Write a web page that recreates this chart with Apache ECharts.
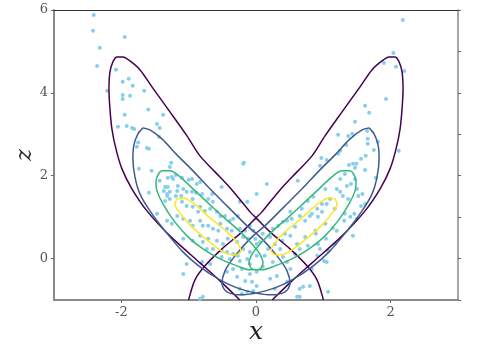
<!DOCTYPE html>
<html>
<head>
<meta charset="utf-8">
<script src="https://cdn.jsdelivr.net/npm/echarts@6/dist/echarts.min.js"></script>
<style>html,body{margin:0;padding:0;background:#fff;}#c{width:491px;height:344px;}</style>
</head>
<body>
<div id="c"></div>
<script>
// ---------- data ----------
var xTickLabels = [-2, 0, 2];
var yTickLabels = [0, 2, 4, 6];
var yMinorTicks = [-1, 0, 1, 2, 3, 4, 5, 6];

var scatterPoints = [
[-2.41,5.88],[-2.42,5.50],[-1.95,5.35],[-2.32,5.09],[-2.36,4.65],[-2.08,4.56],[-1.98,4.27],[-1.89,4.34],
[-1.83,4.17],[-2.21,4.05],[-1.98,3.95],[-1.98,3.85],[-1.87,3.93],[-1.66,4.05],[-1.60,3.60],[-1.95,3.47],
[-1.38,3.47],[-2.05,3.18],[-1.92,3.20],[-1.84,3.15],[-1.81,3.13],[-1.47,3.25],[-1.43,3.15],[-1.44,2.94],
[-1.75,2.80],[-1.77,2.70],[-1.62,2.67],[-1.59,2.65],[-1.26,2.31],[-1.28,2.21],[-0.18,2.31],[-1.74,2.17],
[-1.55,2.12],[-1.19,2.02],[-1.25,1.97],[-1.23,1.92],[-1.31,1.95],[-1.10,1.95],[-1.00,1.90],[-1.31,1.73],
[-1.16,1.75],[-1.08,1.68],[-1.37,1.63],[-1.59,1.59],[-1.03,1.61],[-0.95,1.61],[-0.89,1.59],[-1.19,1.51],
[-1.32,1.51],[-1.11,1.51],
[-0.19,2.29],[-1.43,1.88],[-0.95,1.92],[-0.88,1.80],[-0.83,1.85],[-1.35,1.73],[-1.28,1.61],[-1.17,1.63],
[-1.32,1.56],[-1.28,1.44],[-1.35,1.39],[-0.94,1.44],[-0.80,1.56],[-0.71,1.44],[-0.64,1.37],[-0.51,1.73],
[-0.65,1.56],[-1.10,1.37],[-1.03,1.27],[-0.94,1.25],[-0.83,1.25],[-0.86,1.13],[-0.76,1.15],[-0.68,1.20],
[-0.58,1.13],[-0.53,1.03],[-0.46,1.03],[-0.39,0.91],[-0.34,0.96],[-0.27,1.03],[-0.13,1.37],[-0.24,1.37],
[-1.32,0.91],[-1.25,0.84],[-1.17,1.03],[-1.08,0.96],[-0.98,0.91],[-0.94,0.79],[-0.83,0.91],[-0.79,0.79],
[-0.71,0.79],[-0.64,0.72],[-0.56,0.67],[-0.53,0.84],[-0.43,0.72],[-0.36,0.67],[-0.24,0.72],[-0.16,0.67],
[-0.09,0.79],[-0.04,0.67],[-1.08,0.48],[-0.94,0.43],[-0.83,0.55],[-0.79,0.40],[-0.71,0.48],[-0.58,0.43],
[-0.49,0.35],[-0.42,0.48],[-0.28,0.40],[-0.19,0.52],[-0.12,0.48],[-0.01,0.48],[0.01,0.35],[-0.73,0.23],
[-0.64,0.23],[-0.51,0.19],[-0.43,0.16],[-0.34,0.11],[-0.27,0.07],[-0.19,0.23],[-0.09,0.16],[0.01,0.07],
[-0.51,0.04],[-0.39,-0.01],[-0.24,-0.06],[-0.13,-0.01],[-0.09,-0.13],[-0.80,-0.08],[-1.03,-0.13],[-0.68,-0.13],
[-1.08,-0.37],[-0.43,-0.32],[-0.34,-0.25],[-0.21,-0.25],[-0.09,-0.37],[0.01,-0.32],[-0.28,-0.44],[-0.16,-0.54],
[-0.06,-0.56],[0.01,-0.66],[-0.24,-0.73],[-0.13,-0.80],[-0.04,-0.78],[-0.83,-0.97],[-0.79,-0.92],[-1.47,1.08],
[-0.21,-0.85],
[0.16,1.80],[0.01,1.56],[0.62,1.88],[1.20,1.68],[1.25,1.61],[1.29,1.51],[1.35,1.75],[1.37,1.44],
[1.50,1.68],[1.40,1.01],[1.50,0.96],[1.44,0.55],[1.20,0.67],[0.77,1.39],[0.80,1.03],[0.91,1.20],
[0.92,1.01],[0.98,1.13],[1.05,1.32],[0.65,1.03],[0.51,1.13],[0.46,0.91],[0.40,0.89],[0.33,0.79],
[0.51,0.55],[0.39,0.43],[0.25,0.72],[0.21,0.52],[0.10,0.60],[0.06,0.40],[0.61,0.35],[0.77,0.31],
[0.65,0.23],[0.91,0.07],[0.95,0.23],[1.05,-0.08],[0.40,0.04],[0.46,-0.08],[0.25,-0.08],[0.10,-0.20],
[0.31,-0.42],[0.21,-0.49],[0.46,-0.56],[0.65,-0.73],[0.70,-0.68],[1.07,-0.80],[0.61,-0.92],[0.65,-0.92],
[0.80,-0.66],
[0.28,0.35],[0.43,0.60],[0.58,0.77],[0.73,0.91],[0.83,1.08],[0.98,1.32],[1.10,1.44],[1.17,1.20],
[1.03,0.84],[0.88,0.67],[0.73,0.52],[0.58,0.11],[0.36,0.23],[0.18,0.23],[0.13,0.07],[0.53,0.96],
[0.68,1.20],[0.85,1.49],[1.03,1.68],[1.25,1.92],[1.32,2.04],[1.47,1.92],[1.58,1.56],[1.62,1.32],
[1.32,1.08],[1.17,0.35],[0.92,0.35],[0.83,-0.25],[0.51,-0.25],[0.28,-0.73],
[1.41,1.80],[1.52,1.51],[1.78,1.95],[1.56,1.27],[1.46,1.08],[1.14,0.74],[1.31,0.91],[0.89,0.60],
[1.04,0.48],[1.07,0.19],[1.01,-0.06],
[2.18,5.76],[2.04,4.96],[1.90,4.72],[2.08,4.63],[2.20,4.53],[1.93,3.85],[1.62,3.69],[1.68,3.52],
[1.47,3.30],[1.65,3.08],[1.22,2.99],[1.37,2.96],[1.43,3.01],[1.66,2.89],[1.66,2.77],[1.81,2.82],
[1.34,2.74],[1.25,2.60],[1.22,2.53],[1.75,2.62],[2.12,2.60],[1.63,2.48],[1.56,2.41],[0.97,2.43],
[1.44,2.29],[1.38,2.26],[1.49,2.29],[1.05,2.38],[0.95,2.24],[1.47,2.19],[1.62,2.14]
];

// contour level 1 (outermost), left and right banana (open at the bottom edge)
var purpleLeft = [
[-0.24,-1.0],[-0.535,-0.538],[-0.832,-0.104],[-1.278,0.548],[-1.620,1.151],[-1.843,1.683],[-1.991,2.165],
[-2.080,2.648],[-2.140,3.133],[-2.169,3.613],[-2.184,4.096],[-2.169,4.506],[-2.125,4.748],[-2.065,4.868],
[-1.976,4.868],[-1.872,4.771],[-1.724,4.560],[-1.545,4.144],[-1.278,3.541],[-1.025,2.961],[-0.832,2.479],
[-0.609,2.093],[-0.357,1.658],[-0.089,1.127],[0.0,0.982],[0.208,0.644],[0.505,0.234],[0.758,-0.176],
[0.906,-0.514],[0.981,-0.876],[1.0,-1.0]
];
var purpleRight = [
[0.24,-1.0],[0.535,-0.538],[0.832,-0.104],[1.278,0.548],[1.620,1.151],[1.843,1.683],[1.991,2.165],
[2.080,2.648],[2.140,3.133],[2.169,3.613],[2.184,4.096],[2.169,4.506],[2.125,4.748],[2.065,4.868],
[1.976,4.868],[1.872,4.771],[1.724,4.560],[1.545,4.144],[1.278,3.541],[1.025,2.961],[0.832,2.479],
[0.609,2.093],[0.357,1.658],[0.089,1.127],[0.0,0.982],[-0.208,0.644],[-0.505,0.234],[-0.758,-0.176],
[-0.906,-0.514],[-0.981,-0.876],[-1.0,-1.0]
];
// contour level 2
var blueLeft = [
[-1.679,3.155],[-1.575,3.106],[-1.397,2.889],[-1.174,2.503],[-0.936,2.117],[-0.684,1.683],[-0.416,1.248],
[-0.163,0.838],[0.089,0.476],[0.312,0.065],[0.461,-0.297],[0.505,-0.610],[0.431,-0.804],[0.238,-0.876],
[-0.015,-0.828],[-0.282,-0.707],[-0.535,-0.514],[-0.832,-0.200],[-1.085,0.162],[-1.352,0.669],[-1.575,1.151],
[-1.724,1.562],[-1.798,1.972],[-1.828,2.407],[-1.813,2.744],[-1.753,3.010],[-1.679,3.155]
];
var blueRight = [
[1.679,3.155],[1.575,3.106],[1.397,2.889],[1.174,2.503],[0.936,2.117],[0.684,1.683],[0.416,1.248],
[0.163,0.838],[-0.089,0.476],[-0.312,0.065],[-0.461,-0.297],[-0.505,-0.610],[-0.431,-0.804],[-0.238,-0.876],
[0.015,-0.828],[0.282,-0.707],[0.535,-0.514],[0.832,-0.200],[1.085,0.162],[1.352,0.669],[1.575,1.151],
[1.724,1.562],[1.798,1.972],[1.828,2.407],[1.813,2.744],[1.753,3.010],[1.679,3.155]
];
// contour level 3
var greenLeft = [
[-1.471,1.972],[-1.397,2.117],[-1.278,2.117],[-1.129,1.972],[-0.936,1.683],[-0.728,1.369],[-0.505,1.031],
[-0.282,0.717],[-0.089,0.403],[0.045,0.138],[0.104,-0.103],[0.059,-0.248],[-0.089,-0.272],[-0.282,-0.176],
[-0.535,-0.007],[-0.788,0.234],[-1.010,0.524],[-1.218,0.910],[-1.382,1.320],[-1.471,1.634],[-1.486,1.851],
[-1.471,1.972]
];
var greenRight = [
[1.471,1.972],[1.397,2.117],[1.278,2.117],[1.129,1.972],[0.936,1.683],[0.728,1.369],[0.505,1.031],
[0.282,0.717],[0.089,0.403],[-0.045,0.138],[-0.104,-0.103],[-0.059,-0.248],[0.089,-0.272],[0.282,-0.176],
[0.535,-0.007],[0.788,0.234],[1.010,0.524],[1.218,0.910],[1.382,1.320],[1.471,1.634],[1.486,1.851],
[1.471,1.972]
];
// contour level 4 (innermost)
var yellowLeft = [
[-1.174,1.441],[-1.085,1.465],[-0.936,1.345],[-0.684,0.982],[-0.431,0.644],[-0.267,0.355],[-0.223,0.186],
[-0.297,0.089],[-0.461,0.138],[-0.728,0.451],[-0.981,0.813],[-1.144,1.127],[-1.203,1.320],[-1.174,1.441]
];
var yellowRight = [
[1.174,1.441],[1.085,1.465],[0.936,1.345],[0.684,0.982],[0.431,0.644],[0.267,0.355],[0.223,0.186],
[0.297,0.089],[0.461,0.138],[0.728,0.451],[0.981,0.813],[1.144,1.127],[1.203,1.320],[1.174,1.441]
];

var contourSets = [
  {name: 'level1', color: '#440154', parts: [purpleLeft, purpleRight]},
  {name: 'level2', color: '#3e5b8e', parts: [blueLeft, blueRight]},
  {name: 'level3', color: '#35b779', parts: [greenLeft, greenRight]},
  {name: 'level4', color: '#fde725', parts: [yellowLeft, yellowRight]}
];

// ---------- chart ----------
var chart = echarts.init(document.getElementById('c'), null, {renderer: 'canvas'});
var serif = '"DejaVu Serif", "Liberation Serif", serif';
var series = [{
  type: 'scatter', data: scatterPoints, symbolSize: 4, z: 1,
  itemStyle: {color: '#87ceeb', opacity: 1}, silent: true
}];
contourSets.forEach(function (c) {
  c.parts.forEach(function (p) {
    series.push({
      type: 'line', data: p, showSymbol: false, smooth: 0.3, z: 3, silent: true,
      lineStyle: {color: c.color, width: 1.5}
    });
  });
});

chart.setOption({
  animation: false,
  backgroundColor: '#ffffff',
  grid: {left: 54, right: 33, top: 10, bottom: 44, containLabel: false, outerBoundsMode: 'none'},
  xAxis: [{
    type: 'value', min: -3, max: 3, position: 'bottom',
    name: 'x', nameLocation: 'middle', nameGap: 20, nameMoveOverlap: false,
    nameTextStyle: {fontFamily: serif, fontStyle: 'italic', fontSize: 25, color: '#222'},
    axisLine: {show: true, onZero: false, lineStyle: {color: '#8a8a8a', width: 2}},
    axisTick: {show: true, length: 3, customValues: xTickLabels, lineStyle: {color: '#666', width: 1}},
    axisLabel: {customValues: xTickLabels, fontFamily: serif, fontSize: 13, color: '#555', margin: 6},
    splitLine: {show: false}
  }, {
    type: 'value', min: -3, max: 3, position: 'top',
    axisLine: {show: true, onZero: false, lineStyle: {color: '#333', width: 1.2}},
    axisTick: {show: false}, axisLabel: {show: false}, splitLine: {show: false}
  }],
  yAxis: [{
    type: 'value', min: -1, max: 6, position: 'left',
    name: 'z', nameLocation: 'middle', nameGap: 18, nameRotate: 90, nameMoveOverlap: false,
    nameTextStyle: {fontFamily: serif, fontStyle: 'italic', fontSize: 22, color: '#222'},
    axisLine: {show: true, onZero: false, lineStyle: {color: '#8a8a8a', width: 2}},
    axisTick: {show: true, length: 3, customValues: yTickLabels, lineStyle: {color: '#666', width: 1}},
    axisLabel: {customValues: yTickLabels, fontFamily: serif, fontSize: 13, color: '#555', margin: 6},
    splitLine: {show: false}
  }, {
    type: 'value', min: -1, max: 6, position: 'right',
    axisLine: {show: true, onZero: false, lineStyle: {color: '#8a8a8a', width: 1.5}},
    axisTick: {show: true, length: 3, customValues: yMinorTicks, lineStyle: {color: '#666', width: 1}},
    axisLabel: {show: false}, splitLine: {show: false}
  }],
  series: series
});
</script>
</body>
</html>
